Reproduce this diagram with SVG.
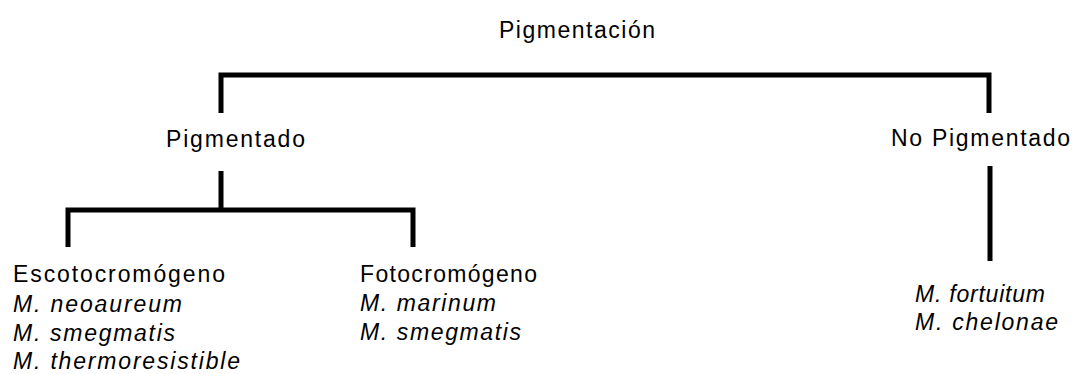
<svg xmlns="http://www.w3.org/2000/svg" width="1073" height="374" viewBox="0 0 1073 374">
<style>
text{font-family:"Liberation Sans",Arial,sans-serif;font-size:23px;fill:#000}
.it{font-style:italic}
.c{fill:none;stroke:#000;stroke-width:5;stroke-linecap:butt;stroke-linejoin:miter}
</style>
<rect width="1073" height="374" fill="#fff"/>
<g id="connectors">
<path class="c" d="M221,113 V75 H989 V113"/>
<path class="c" d="M221,171 V210"/>
<path class="c" d="M68,247 V210 H413 V247"/>
<path class="c" d="M990,166 V261"/>
</g>
<g id="root"><text x="499" y="38" textLength="156" lengthAdjust="spacing">Pigmentación</text></g>
<g id="pigmentado"><text x="166" y="147" textLength="139" lengthAdjust="spacing">Pigmentado</text></g>
<g id="no-pigmentado"><text x="891" y="146" textLength="179" lengthAdjust="spacing">No Pigmentado</text></g>
<g id="escotocromogeno">
<text x="13" y="282" textLength="212" lengthAdjust="spacing">Escotocromógeno</text>
<text class="it" x="13" y="312" textLength="169" lengthAdjust="spacing">M. neoaureum</text>
<text class="it" x="13" y="341" textLength="162" lengthAdjust="spacing">M. smegmatis</text>
<text class="it" x="13" y="369" textLength="227" lengthAdjust="spacing">M. thermoresistible</text>
</g>
<g id="fotocromogeno">
<text x="360" y="282" textLength="177" lengthAdjust="spacing">Fotocromógeno</text>
<text class="it" x="360" y="311" textLength="136" lengthAdjust="spacing">M. marinum</text>
<text class="it" x="360" y="340" textLength="161" lengthAdjust="spacing">M. smegmatis</text>
</g>
<g id="no-pigmentado-species">
<text class="it" x="915" y="302" textLength="130" lengthAdjust="spacing">M. fortuitum</text>
<text class="it" x="915" y="330" textLength="143" lengthAdjust="spacing">M. chelonae</text>
</g>
</svg>
